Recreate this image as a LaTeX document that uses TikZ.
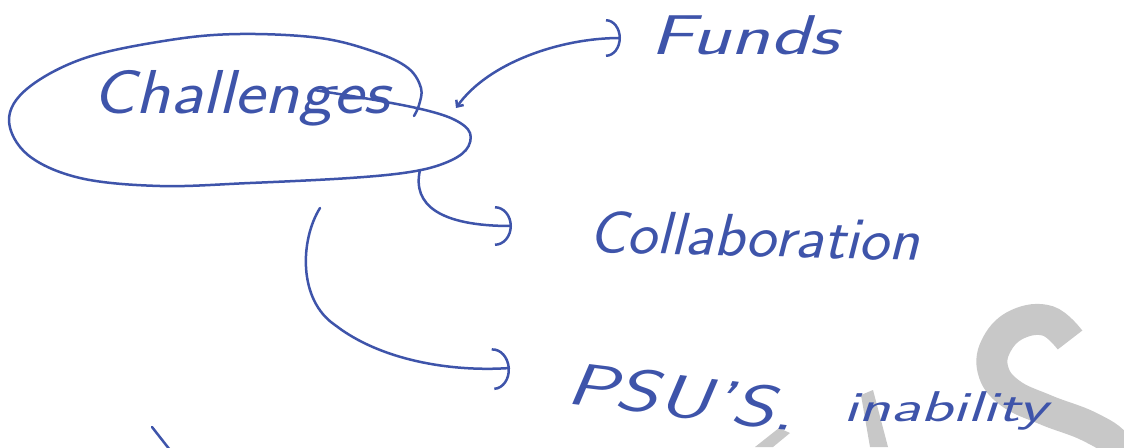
\documentclass[tikz,border=0pt]{standalone}
\usepackage{fontspec}
\usetikzlibrary{arrows.meta}
\definecolor{ink}{RGB}{62,84,170}
\definecolor{wmgray}{RGB}{200,200,200}
\begin{document}
\begin{tikzpicture}[x=1pt,y=-1pt,
  pen/.style={draw=ink, line width=2.5pt, line cap=round, line join=round},
  hand/.style={text=ink, inner sep=0pt},
  wm/.style={fill=wmgray, draw=none}]
\useasboundingbox (0,0) rectangle (1124,447);
\fill[white] (0,0) rectangle (1124,447);

% faint watermark strokes in the background
\begin{scope}
  \clip (0,0) rectangle (1124,447);
  \draw[wmgray, line width=31pt, line cap=butt] plot[smooth, tension=0.7] coordinates {
    (1070,340) (1048,321) (1018,324) (997,344) (993,370) (1010,393)
    (1046,410) (1090,427) (1118,447) (1132,480)};
  \fill[wm] (755,447) -- (779,428) -- (790,433) -- (773,447) -- cycle;
  \fill[wm] (861,395) -- (873,390) -- (888,447) -- (870,447) -- cycle;
\end{scope}

% central topic
\node[hand, anchor=base west, font=\sffamily\slshape\fontsize{62}{62}\selectfont]
  (chal) at (92,113) {\scalebox{1.16}[1]{Challenges}};
\draw[pen] plot[smooth, tension=0.6] coordinates {
  (314,90) (375,100) (425,110) (455,120) (470,133) (466,150) (445,163)
  (410,172) (350,178) (250,183) (160,186) (80,178) (28,155) (9,120)
  (28,88) (85,58) (170,40) (240,34) (320,38) (375,52) (408,68)
  (421,88) (419,105) (414,116)};

% branches
\node[hand, anchor=base west, font=\sffamily\slshape\fontsize{56}{56}\selectfont]
  (funds) at (650,54) {\scalebox{1.45}[1]{Funds}};
\node[hand, anchor=base west, rotate=-1.5, font=\sffamily\slshape\fontsize{60}{60}\selectfont]
  (collab) at (588,252) {\scalebox{1.06}[1]{Collaboration}};
\node[hand, anchor=base west, rotate=-7, font=\sffamily\slshape\fontsize{60}{60}\selectfont]
  (psu) at (565,403) {\scalebox{1.36}[1]{PSU'S.}};
\node[hand, anchor=base west, font=\sffamily\slshape\fontsize{43}{43}\selectfont]
  (inab) at (843,421) {\scalebox{1.55}[1]{inability}};

% connectors
\coordinate (fA) at (456,108);
\coordinate (fB) at (621,38);
\coordinate (cA) at (420,170);
\coordinate (cB) at (512,226);
\coordinate (pA) at (320,208);
\coordinate (pM) at (335,325);
\coordinate (pB) at (510,368);

\draw[pen, {Straight Barb[length=5pt,width=9pt]}-{Arc Barb[length=15pt,width=38pt]}]
  (fA) .. controls (488,63) and (560,38) .. (fB);
\draw[pen, -{Arc Barb[length=17pt,width=40pt]}]
  (cA) .. controls (412,205) and (440,226) .. (cB);
\draw[pen, -{Arc Barb[length=17pt,width=42pt]}]
  (pA) .. controls (300,240) and (298,300) .. (pM)
       .. controls (380,360) and (450,372) .. (pB);

% stray pen mark
\coordinate (sA) at (152,427);
\coordinate (sB) at (170,450);
\draw[pen] (sA) -- (sB);
\end{tikzpicture}
\end{document}
